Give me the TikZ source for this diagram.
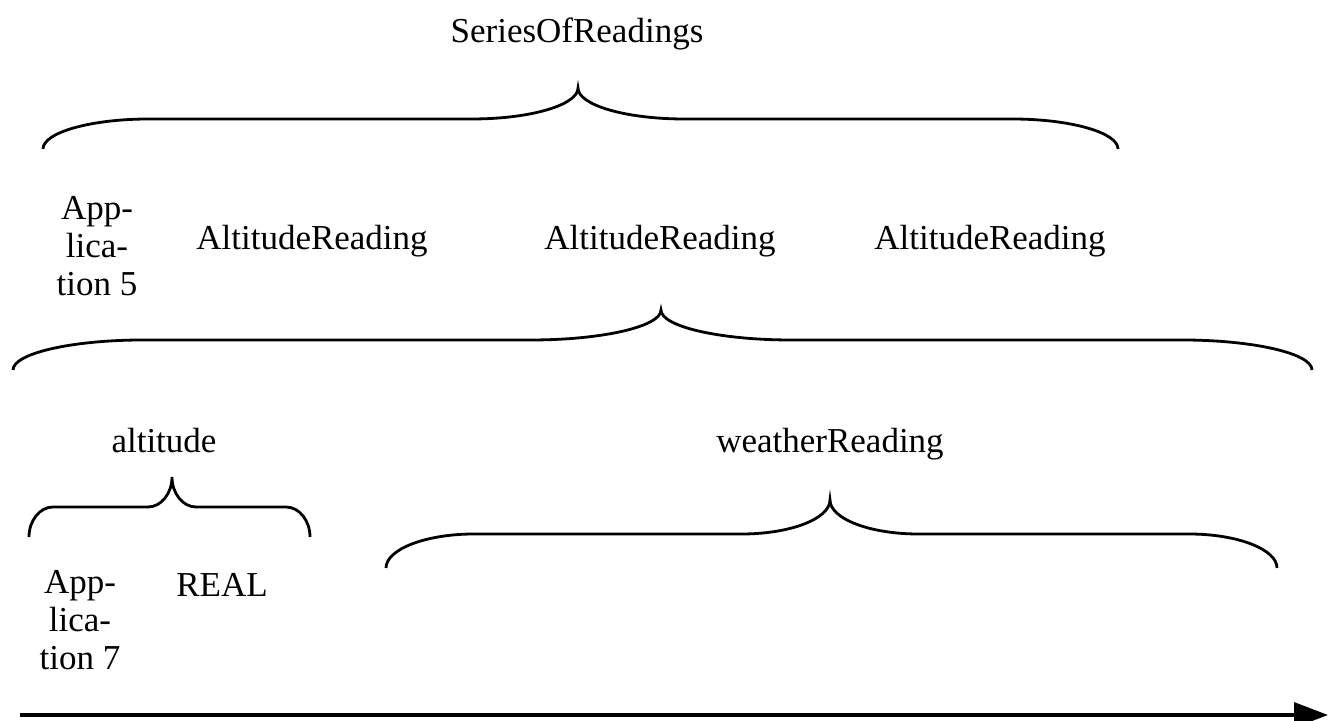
\documentclass[tikz,border=0pt]{standalone}
\usepackage{fontspec}
\setmainfont{Liberation Serif}
\usetikzlibrary{arrows.meta}

% curly brace: left x, right x, tip x, end y, line y, tip y, curve width
\newcommand{\readbrace}[7]{%
  \draw (#1,#4) .. controls (#1,{#4+0.55*(#5-#4)}) and ({#1+0.45*#7},#5) .. ({#1+#7},#5)
        -- ({#3-#7},#5) .. controls ({#3-0.45*#7},#5) and (#3,{#5+0.45*(#6-#5)}) .. (#3,#6)
        .. controls (#3,{#5+0.45*(#6-#5)}) and ({#3+0.45*#7},#5) .. ({#3+#7},#5)
        -- ({#2-#7},#5) .. controls ({#2-0.45*#7},#5) and (#2,{#4+0.55*(#5-#4)}) .. (#2,#4);}

\begin{document}
\begin{tikzpicture}[x=0.5pt,y=0.5pt,line width=1.4pt,
    term/.style={font=\fontsize{17.5}{19}\selectfont,inner sep=0pt,anchor=base},
    stack/.style={term,align=center}]
\useasboundingbox (0,0) rectangle (1328,721);

        \node[term]  (S01) at (577,678) {SeriesOfReadings};
        \node[stack] (P05) at (97,425)  {App-\\lica-\\tion 5};
        \node[term]  (R01) at (312,471) {AltitudeReading};
        \node[term]  (R02) at (660,471) {AltitudeReading};
        \node[term]  (R03) at (990,471) {AltitudeReading};
        \node[term]  (F01) at (164,268) {altitude};
        \node[term]  (F02) at (830,268) {weatherReading};
        \node[stack] (P07) at (80,51)   {App-\\lica-\\tion 7};
        \node[term]  (T01) at (222,124) {REAL};

        \readbrace{43}{1118}{578}{572}{602}{633}{106}
        \readbrace{13}{1312}{661}{351}{381}{411}{130}
        \readbrace{29}{310}{172}{184}{214}{244}{24}
        \readbrace{386}{1277}{830}{153}{187}{221}{88}

        \coordinate (t0) at (20,6);
        \coordinate (t1) at (1328,6);
        \draw[line width=1.6pt,-{Triangle[length=17pt,width=12.5pt]}] (t0) -- (t1);
\end{tikzpicture}
\end{document}
